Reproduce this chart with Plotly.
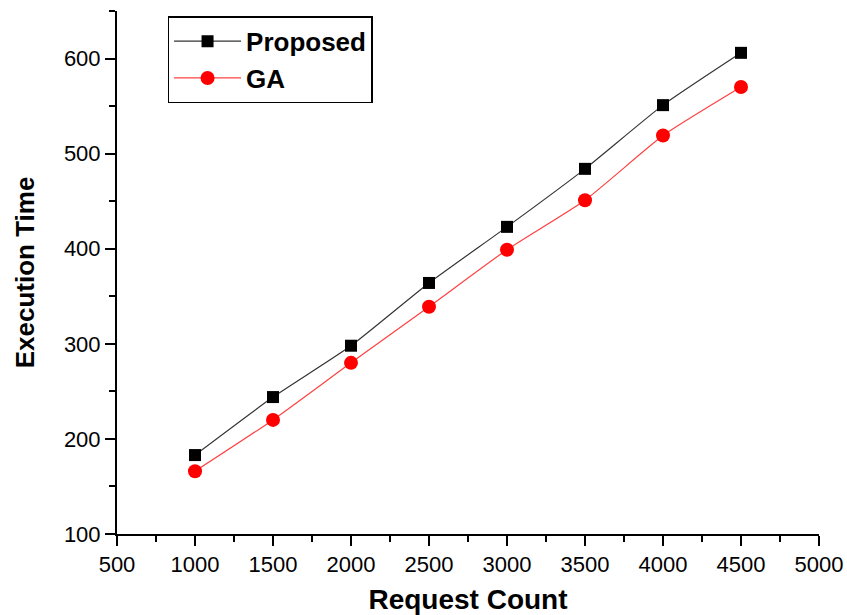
import plotly.graph_objects as go

request_count = [1000, 1500, 2000, 2500, 3000, 3500, 4000, 4500]
proposed = [183, 244, 298, 364, 423, 484, 551, 606]
ga = [166, 220, 280, 339, 399, 451, 519, 570]

FONT = "Arial, Liberation Sans, sans-serif"

fig = go.Figure()
fig.add_trace(go.Scatter(
    x=request_count, y=proposed, name="Proposed", mode="lines+markers",
    line=dict(color="#333333", width=1.2, shape="spline", smoothing=0.5),
    marker=dict(symbol="square", size=12, color="black"),
))
fig.add_trace(go.Scatter(
    x=request_count, y=ga, name="GA", mode="lines+markers",
    line=dict(color="#ff4040", width=1.2, shape="spline", smoothing=0.5),
    marker=dict(symbol="circle", size=14, color="#ff0000"),
))

axis_common = dict(
    showline=True, linecolor="black", linewidth=2, mirror=False,
    ticks="outside", ticklen=10, tickwidth=2, tickcolor="black",
    showgrid=False, zeroline=False, automargin=False,
    tickfont=dict(family=FONT, size=22, color="black"),
)

fig.update_layout(
    width=847, height=615,
    margin=dict(l=117, r=28, t=11, b=81),
    paper_bgcolor="white", plot_bgcolor="white",
    showlegend=True,
    legend=dict(
        x=0.072, y=0.99, xanchor="left", yanchor="top",
        bordercolor="black", borderwidth=1.5, bgcolor="white",
        font=dict(family=FONT, size=26, color="black", weight="bold"),
        tracegroupgap=0, itemwidth=67,
    ),
    xaxis=dict(
        range=[500, 5000], dtick=500, tick0=500,
        minor=dict(dtick=250, ticks="outside", ticklen=6, tickwidth=2, tickcolor="black"),
        title=dict(text="Request Count", font=dict(family=FONT, size=28, color="black", weight="bold"), standoff=18),
        **axis_common,
    ),
    yaxis=dict(
        range=[100, 650], dtick=100, tick0=100,
        minor=dict(dtick=50, ticks="outside", ticklen=6, tickwidth=2, tickcolor="black"),
        title=dict(text="Execution Time", font=dict(family=FONT, size=26, color="black", weight="bold"), standoff=22),
        **axis_common,
    ),
)

# remove the default page margin so the 847x615 figure fills the window exactly
fig.write_html(
    "out.html",
    config={"displayModeBar": False},
    post_script="document.body.style.margin='0';",
)
